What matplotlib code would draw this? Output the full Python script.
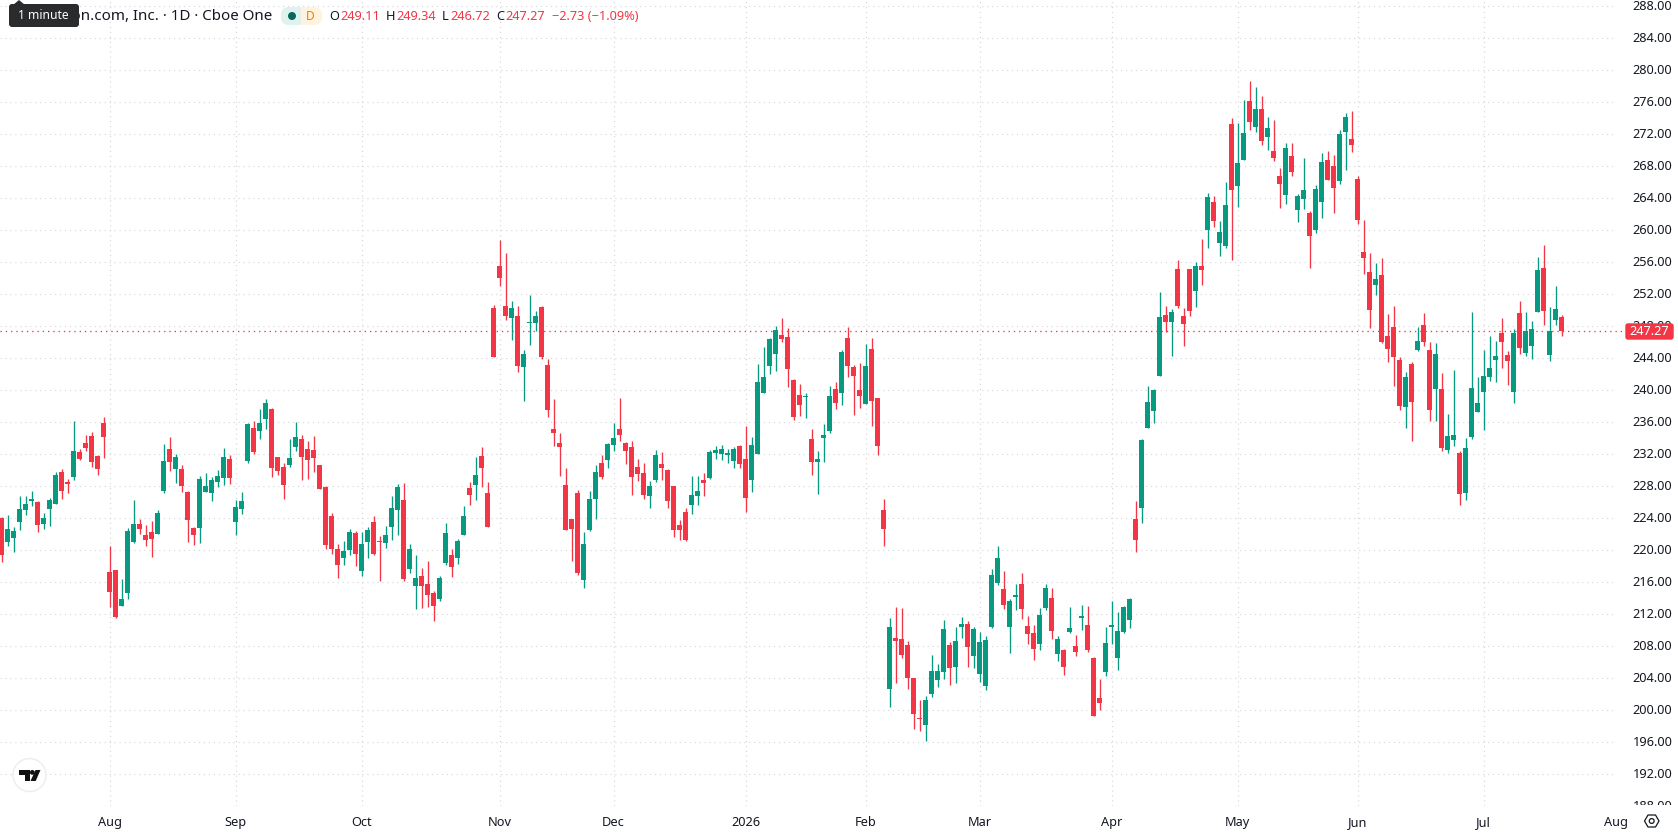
import matplotlib
matplotlib.use("Agg")
import matplotlib.pyplot as plt
from matplotlib.patches import Circle, FancyBboxPatch, Polygon, Rectangle

# Daily OHLC prices, oldest session first
opens = [
    223.92, 220.92, 221.42, 223.42, 224.92, 226.04, 225.92, 223.17, 225.04, 225.67,
    229.67, 228.42, 229.04, 232.17, 233.29, 234.17, 231.67, 235.79, 217.17, 217.42,
    212.92, 214.54, 220.92, 223.17, 221.79, 222.17, 221.92, 227.29, 232.54, 230.04,
    230.04, 227.17, 222.67, 222.67, 227.17, 227.04, 228.42, 228.92, 231.29, 223.42,
    225.04, 231.04, 235.17, 234.79, 236.29, 237.54, 231.54, 230.29, 230.54, 232.79,
    233.79, 232.54, 232.42, 230.54, 227.79, 224.17, 220.04, 218.92, 219.92, 222.04,
    217.29, 220.92, 223.42, 221.04, 220.79, 222.79, 224.92, 226.17, 217.54, 215.42,
    216.67, 215.67, 214.54, 213.79, 218.29, 219.29, 218.92, 221.79, 227.67, 228.04,
    231.67, 227.04, 250.17, 255.42, 250.42, 248.92, 249.17, 242.79, 248.29, 248.29,
    250.29, 243.04, 235.04, 233.29, 228.04, 223.79, 227.04, 216.17, 222.42, 226.29,
    230.79, 231.17, 233.04, 235.04, 233.29, 232.79, 230.29, 229.54, 226.67, 228.67,
    230.67, 229.92, 227.92, 223.04, 224.67, 225.54, 226.67, 228.67, 228.92, 232.04,
    231.92, 231.79, 231.04, 232.92, 231.29, 228.67, 231.92, 239.54, 242.92, 244.42,
    246.79, 246.54, 241.17, 239.29, 239.04, 233.79, 230.92, 233.92, 234.79, 240.04,
    239.54, 246.42, 242.79, 239.92, 238.17, 245.04, 238.92, 224.92, 202.54, 208.92,
    208.79, 208.04, 203.92, 198.92, 198.04, 201.92, 203.67, 204.67, 208.04, 205.29,
    210.29, 210.67, 206.67, 204.42, 202.92, 210.29, 215.79, 215.04, 210.29, 214.04,
    215.67, 210.42, 209.54, 208.17, 212.67, 213.92, 206.92, 207.42, 209.67, 207.92,
    211.42, 210.54, 206.42, 201.42, 204.67, 210.29, 206.42, 209.67, 211.17, 223.79,
    225.17, 235.17, 237.29, 241.67, 249.29, 248.42, 255.04, 249.17, 255.04, 252.29,
    255.42, 259.92, 263.42, 258.29, 257.92, 273.17, 265.42, 268.67, 276.04, 272.79,
    275.04, 271.54, 269.79, 266.67, 264.29, 269.17, 262.42, 263.79, 262.04, 259.92,
    263.42, 268.67, 267.92, 266.04, 272.17, 271.29, 266.29, 257.17, 254.67, 253.04,
    254.29, 246.67, 247.79, 243.67, 237.79, 243.17, 244.92, 248.04, 244.92, 240.04,
    240.04, 232.42, 233.67, 232.04, 227.04, 234.04, 237.17, 239.67, 241.54, 243.67,
    247.04, 244.29, 239.67, 249.54, 244.54, 245.42, 249.67, 255.17, 244.29, 248.67,
    249.11,
]
highs = [
    224.04, 224.29, 222.79, 226.67, 226.67, 227.29, 226.04, 224.54, 226.42, 229.67,
    230.04, 228.79, 236.04, 232.54, 234.29, 234.67, 231.79, 236.54, 220.42, 217.42,
    216.29, 222.67, 226.17, 223.79, 223.04, 223.54, 224.92, 233.17, 234.04, 231.92,
    230.54, 227.29, 222.79, 229.17, 229.54, 229.04, 229.92, 232.67, 231.79, 226.17,
    227.17, 235.79, 236.04, 237.54, 238.79, 237.67, 231.54, 230.79, 233.79, 235.92,
    234.29, 233.54, 234.17, 230.54, 227.92, 224.54, 220.67, 221.04, 222.54, 222.29,
    222.17, 222.79, 224.17, 221.67, 222.92, 226.67, 228.17, 228.29, 220.67, 219.29,
    217.67, 218.54, 214.79, 216.67, 223.29, 220.04, 221.29, 225.42, 228.42, 231.54,
    232.79, 228.42, 250.54, 258.67, 257.04, 251.04, 250.42, 244.92, 251.79, 249.79,
    250.42, 243.79, 238.79, 234.54, 230.17, 223.79, 227.42, 222.17, 227.29, 230.54,
    231.79, 233.29, 235.79, 238.92, 233.42, 233.54, 231.29, 230.79, 228.54, 232.42,
    232.17, 230.04, 227.92, 223.67, 225.17, 229.17, 229.17, 229.54, 232.42, 232.92,
    233.04, 232.54, 232.79, 233.04, 235.42, 234.04, 243.17, 245.29, 246.42, 247.92,
    248.92, 247.67, 241.29, 240.67, 239.54, 235.04, 232.29, 235.67, 240.42, 240.92,
    244.92, 247.79, 243.04, 243.29, 245.67, 246.42, 238.92, 226.29, 211.42, 212.79,
    212.67, 208.54, 203.92, 201.17, 201.67, 206.79, 205.67, 211.17, 208.42, 210.29,
    211.54, 211.04, 210.29, 209.67, 209.17, 217.54, 220.42, 217.29, 213.79, 215.67,
    217.04, 211.67, 210.54, 212.67, 215.67, 215.17, 209.17, 207.54, 212.79, 209.29,
    213.04, 212.92, 206.54, 203.79, 210.29, 213.54, 212.17, 212.92, 213.92, 226.04,
    233.79, 240.42, 240.04, 252.17, 250.42, 250.04, 256.17, 250.17, 255.04, 255.92,
    258.79, 264.54, 264.17, 261.04, 265.92, 273.92, 273.29, 276.17, 278.54, 277.79,
    276.67, 274.04, 273.67, 267.67, 270.79, 270.79, 264.42, 268.92, 262.29, 265.54,
    269.54, 269.79, 269.29, 272.42, 274.54, 274.79, 266.67, 261.17, 257.04, 255.79,
    256.42, 249.42, 250.42, 244.04, 242.17, 243.42, 247.79, 249.54, 245.92, 245.79,
    242.04, 236.92, 242.42, 232.29, 233.92, 249.67, 241.54, 244.92, 246.67, 246.04,
    248.92, 244.79, 247.54, 251.04, 249.67, 248.54, 256.54, 258.04, 250.29, 252.92,
    249.34,
]
lows = [
    218.42, 220.42, 219.67, 222.42, 224.29, 225.42, 222.17, 222.54, 222.92, 225.67,
    226.29, 227.04, 228.67, 231.17, 232.29, 230.29, 229.29, 231.42, 212.79, 211.42,
    212.92, 213.79, 220.79, 221.92, 220.42, 219.04, 221.92, 227.04, 229.79, 228.29,
    227.17, 220.92, 220.54, 220.79, 227.17, 226.04, 227.79, 228.04, 228.17, 221.79,
    224.42, 230.79, 231.92, 233.79, 235.04, 229.04, 229.29, 226.29, 230.29, 232.29,
    228.67, 228.79, 229.67, 227.54, 220.04, 219.42, 216.42, 218.04, 219.29, 217.92,
    216.67, 218.92, 219.29, 216.04, 220.17, 221.17, 221.79, 216.04, 217.04, 212.54,
    212.67, 212.79, 211.04, 213.54, 218.04, 216.54, 218.17, 221.79, 225.54, 226.17,
    227.79, 222.79, 244.04, 252.92, 248.67, 246.17, 242.17, 238.54, 245.54, 247.29,
    243.79, 236.54, 232.92, 229.17, 222.42, 218.54, 216.79, 215.17, 222.29, 223.79,
    228.79, 230.17, 232.29, 233.54, 230.67, 226.79, 228.54, 226.29, 225.17, 228.42,
    228.67, 225.17, 221.54, 221.17, 221.04, 224.42, 225.54, 226.67, 228.79, 231.29,
    231.17, 230.79, 230.17, 230.17, 224.67, 227.17, 231.92, 239.54, 241.92, 242.29,
    245.92, 240.29, 236.17, 236.67, 236.42, 229.29, 226.92, 230.92, 234.54, 237.54,
    238.04, 241.54, 236.79, 237.67, 238.17, 235.42, 231.79, 220.42, 200.29, 203.29,
    206.42, 202.54, 197.54, 197.29, 196.04, 201.54, 202.79, 203.79, 203.04, 203.29,
    208.92, 205.29, 205.17, 203.42, 202.42, 210.17, 215.54, 212.54, 207.04, 212.42,
    211.29, 208.17, 206.17, 207.42, 212.42, 208.79, 206.04, 204.29, 209.54, 206.67,
    209.92, 207.17, 199.17, 199.92, 204.17, 208.17, 204.92, 209.54, 210.17, 219.67,
    223.29, 235.17, 235.79, 241.67, 247.17, 244.17, 250.17, 245.42, 249.17, 250.29,
    253.04, 257.67, 260.29, 256.67, 257.67, 256.17, 262.79, 268.67, 272.42, 272.17,
    270.54, 269.92, 268.54, 262.67, 263.17, 266.67, 260.92, 262.54, 255.17, 259.54,
    261.42, 266.17, 262.04, 265.67, 267.42, 269.67, 260.67, 254.42, 247.67, 251.79,
    245.79, 243.42, 240.42, 237.42, 235.17, 233.54, 244.79, 245.42, 236.04, 236.04,
    232.29, 232.04, 232.92, 225.54, 226.17, 233.79, 237.17, 234.92, 241.04, 240.92,
    242.67, 240.54, 238.29, 244.42, 244.17, 243.79, 249.67, 248.04, 243.54, 248.04,
    246.72,
]
closes = [
    219.29, 222.54, 222.29, 225.04, 225.67, 226.29, 223.04, 223.92, 226.17, 229.29,
    227.29, 228.17, 232.29, 231.29, 232.67, 230.92, 230.04, 234.04, 214.67, 211.54,
    213.79, 222.29, 223.17, 222.54, 221.17, 221.29, 224.54, 231.04, 230.92, 231.54,
    227.92, 223.67, 221.79, 228.79, 227.92, 228.67, 229.17, 231.54, 228.92, 225.29,
    226.04, 235.67, 232.17, 235.79, 238.29, 230.17, 229.79, 228.04, 231.42, 234.04,
    231.54, 231.17, 231.42, 227.54, 220.54, 220.04, 218.04, 219.79, 222.17, 219.42,
    220.67, 222.42, 219.42, 220.92, 221.79, 225.17, 227.79, 216.29, 220.04, 216.42,
    215.42, 214.29, 212.92, 216.42, 222.04, 217.79, 221.04, 224.17, 226.79, 229.29,
    230.17, 222.79, 244.04, 253.92, 249.17, 250.17, 242.92, 244.42, 248.42, 249.17,
    244.04, 237.42, 234.54, 232.79, 222.42, 222.54, 217.04, 220.67, 226.29, 229.67,
    229.04, 233.17, 233.92, 234.29, 232.29, 229.04, 229.42, 226.79, 227.92, 231.79,
    230.17, 226.04, 222.42, 222.42, 221.17, 226.79, 227.29, 228.29, 232.17, 232.42,
    232.54, 232.04, 232.54, 230.67, 226.42, 233.04, 240.92, 241.54, 246.29, 247.42,
    246.29, 242.54, 236.54, 238.04, 239.17, 230.92, 231.29, 234.29, 239.17, 238.29,
    244.67, 242.92, 241.67, 239.17, 242.92, 238.54, 232.92, 222.54, 210.29, 208.54,
    206.79, 203.92, 199.42, 198.79, 201.17, 204.79, 204.79, 210.04, 205.17, 208.54,
    210.67, 207.79, 210.04, 208.42, 208.67, 216.79, 218.92, 213.04, 213.54, 214.29,
    212.54, 209.42, 207.54, 211.79, 215.17, 209.79, 208.79, 205.29, 210.17, 207.17,
    211.67, 207.42, 199.17, 200.79, 208.29, 210.54, 209.79, 212.79, 213.79, 221.17,
    233.67, 238.42, 239.92, 249.04, 248.42, 249.67, 250.42, 248.17, 249.79, 255.42,
    254.92, 264.04, 261.04, 259.67, 263.04, 264.92, 268.29, 272.04, 273.42, 275.04,
    271.04, 272.67, 268.92, 265.67, 270.17, 267.17, 264.17, 264.92, 259.17, 265.04,
    268.42, 266.17, 265.17, 271.92, 274.04, 270.54, 261.17, 256.42, 249.92, 253.79,
    245.92, 245.04, 244.04, 237.92, 241.54, 238.42, 246.04, 245.92, 237.42, 244.42,
    232.67, 234.17, 234.29, 226.92, 232.67, 240.17, 238.29, 241.67, 242.67, 244.17,
    245.92, 243.54, 247.04, 245.17, 247.29, 247.54, 254.92, 249.79, 247.29, 250.04,
    247.27,
]

# Session index of each month's first bar and the label under it
month_bars = [18, 39, 60, 83, 102, 124, 144, 163, 185, 206, 226, 247, 269]
month_labels = ["Aug", "Sep", "Oct", "Nov", "Dec", "2026", "Feb", "Mar", "Apr",
                "May", "Jun", "Jul", "Aug"]
price_ticks = list(range(188, 289, 4))

last_close = closes[-1]
title = "Amazon.com, Inc. · 1D · Cboe One"
ohlc_fields = [("O", "249.11"), ("H", "249.34"), ("L", "246.72"), ("C", "247.27")]
change_text = "−2.73 (−1.09%)"

UP = "#089981"
DOWN = "#F23645"
INK = "#131722"
GRID = "#d6d8dd"
FONT = "Noto Sans"

plt.rcParams["font.family"] = FONT
W, H = 1678, 835
fig = plt.figure(figsize=(W / 100, H / 100), dpi=100, facecolor="white")

# Price pane: 6 px per session, 8 px per dollar
pane_right, pane_bottom = 1616, 806
ax = fig.add_axes([0, 1 - pane_bottom / H, pane_right / W, pane_bottom / H])
ax.set_xlim(-0.25, (pane_right - 1.5) / 6)
ax.set_ylim(256 - (pane_bottom - 261.5) / 8, 256 + 261.5 / 8)
for side in ax.spines.values():
    side.set_visible(False)

grid_style = dict(color=GRID, lw=0.85, ls=(0, (1, 3.2)), zorder=1)
ax.set_axisbelow(True)
for p in price_ticks:
    ax.axhline(p, **grid_style)
for m in month_bars:
    ax.axvline(m, **grid_style)

bars = range(len(closes))
colors = [UP if c >= o else DOWN for o, c in zip(opens, closes)]
ax.vlines(bars, lows, highs, colors=colors, linewidth=0.95, zorder=3)
ax.bar(bars, [max(abs(c - o), 0.125) for o, c in zip(opens, closes)],
       bottom=[min(o, c) for o, c in zip(opens, closes)],
       width=5 / 6, color=colors, linewidth=0, zorder=4)

# Dotted line at the last close, running up to its axis tag
ax.hlines(last_close, -0.25, 270.6, colors=DOWN, linewidth=0.95,
          linestyles=(0, (1, 3)), zorder=5, clip_on=False)

ax.yaxis.tick_right()
ax.set_yticks(price_ticks)
ax.set_yticklabels([f"{p:.2f}" for p in price_ticks], fontsize=9.2, color=INK)
for p, lab in zip(price_ticks, ax.get_yticklabels()):
    if p % 20 == 0:
        lab.set_fontweight("bold")
ax.tick_params(axis="y", length=0, pad=11.8)

ax.set_xticks(month_bars)
ax.set_xticklabels(month_labels, fontsize=9.2, color=INK)
ax.get_xticklabels()[5].set_fontweight("bold")
ax.tick_params(axis="x", length=0, pad=7.5)

# Overlay in pixel coordinates for header, tag and logo
ov = fig.add_axes([0, 0, 1, 1], facecolor="none")
ov.set_xlim(0, W)
ov.set_ylim(H, 0)
ov.axis("off")

# Time-scale strip trims the lowest price label
ov.add_patch(Rectangle((1616, 805), 62, 6, fc="white", ec="none", zorder=1))

ov.add_patch(FancyBboxPatch((1626, 324), 47, 15, boxstyle="round,pad=0,rounding_size=2",
                            fc=DOWN, ec=DOWN, lw=1, zorder=2))
ov.text(1649.5, 331.5, f"{last_close:.2f}", color="white", fontsize=9.2,
        ha="center", va="center", zorder=3)

# Header row
ov.text(272.5, 16.5, title, color=INK, fontsize=10.9, ha="right", va="center", zorder=2)
ov.add_patch(FancyBboxPatch((290, 7), 32, 18, boxstyle="round,pad=0,rounding_size=8",
                            fc="#fff3e0", ec="none", zorder=2))
ov.add_patch(FancyBboxPatch((281, 7), 20, 18, boxstyle="round,pad=0,rounding_size=8",
                            fc="#dff2ee", ec="none", zorder=2))
ov.add_patch(Rectangle((296, 7), 5, 18, fc="#dff2ee", ec="none", zorder=2))
ov.add_patch(Circle((292, 16), 4, fc="#07695a", ec="none", zorder=3))
ov.text(310.5, 16, "D", color="#F57C00", fontsize=8.6, ha="center", va="center", zorder=3)

field_x = [(329, 340.5), (386, 396), (442, 450), (496, 505)]
for (key, val), (kx, vx) in zip(ohlc_fields, field_x):
    ov.text(kx, 17, key, color=INK, fontsize=9.2, va="center", zorder=3)
    ov.text(vx, 17, val, color=DOWN, fontsize=9.2, va="center", zorder=3)
ov.text(552, 17, change_text, color=DOWN, fontsize=9.2, va="center", zorder=3)

# Tooltip over the start of the title
ov.add_patch(FancyBboxPatch((9, 4), 70, 23, boxstyle="round,pad=0,rounding_size=3",
                            fc="#2a2b2d", ec="none", zorder=6))
ov.add_patch(Polygon([(13, 5), (19, 0), (25, 5)], fc="#2a2b2d", ec="none", zorder=6))
ov.text(43, 15.5, "1 minute", color="white", fontsize=8.7, ha="center", va="center", zorder=7)

# Logo badge, lower left
ov.add_patch(Circle((29.5, 775), 16.5, fc="white", ec="#eeeeee", lw=1.1, zorder=6))
ov.add_patch(Polygon([(19, 770), (29.5, 770), (29.5, 781), (24.5, 781), (24.5, 775), (19, 775)],
                     fc="#111111", ec="none", zorder=7))
ov.add_patch(Circle((32.3, 772.4), 2.4, fc="#111111", ec="none", zorder=7))
ov.add_patch(Polygon([(35.5, 770), (40.5, 770), (35.7, 781), (30.5, 781)],
                     fc="#111111", ec="none", zorder=7))

# Settings hexagon, lower right
ov.add_patch(Polygon([(1644.5, 821), (1648, 815), (1655.5, 815), (1659, 821), (1655.5, 827), (1648, 827)],
                     fc="white", ec=INK, lw=0.9, joinstyle="round", zorder=6))
ov.add_patch(Circle((1651.7, 821), 2.4, fc="white", ec=INK, lw=0.9, zorder=7))

fig.savefig("out.png", dpi=100)
